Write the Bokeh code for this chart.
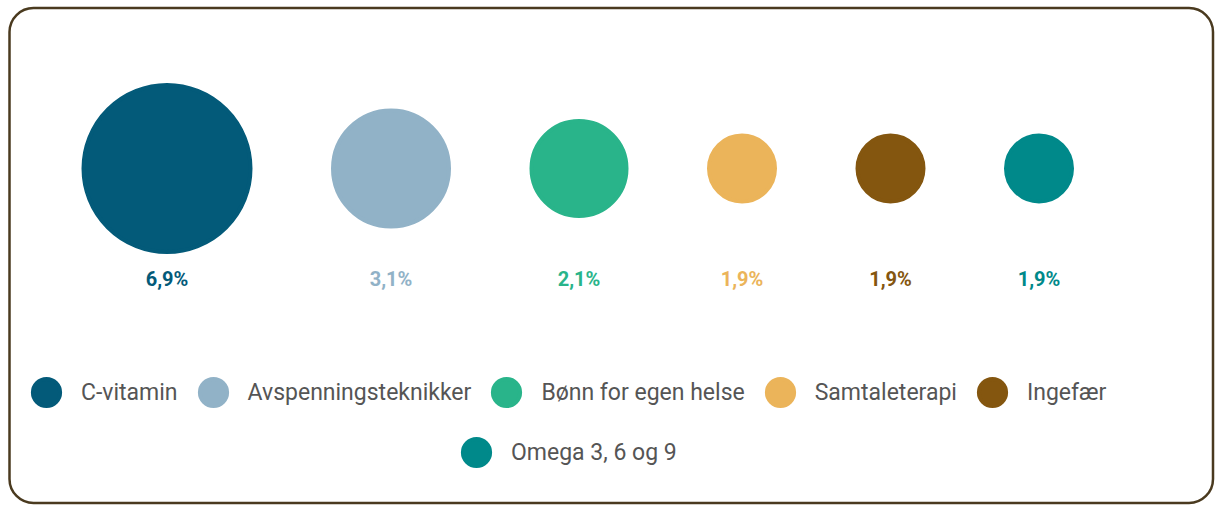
from bokeh.plotting import figure
from bokeh.models import ColumnDataSource, Range1d, BoxAnnotation, Legend, LegendItem
from bokeh.embed import file_html
from bokeh.resources import INLINE
from bokeh.core.properties import value

# ---- data ----
categories = ["C-vitamin", "Avspenningsteknikker", "Bønn for egen helse",
              "Samtaleterapi", "Ingefær", "Omega 3, 6 og 9"]
shares = [6.9, 3.1, 2.1, 1.9, 1.9, 1.9]
share_labels = ["6,9%", "3,1%", "2,1%", "1,9%", "1,9%", "1,9%"]

# ---- styles ----
colors = ["#035a79", "#91b2c7", "#29b48a", "#ebb45a", "#84560f", "#00898a"]
bubble_diam = [171, 120, 99, 70, 70, 70]   # screen diameters of the bubbles
edge_w = 4                                   # outline width (same colour as fill)
W, H = 1215, 505
first_left = 81
gap = 78.5
bubble_y = 168
label_y = 278

xs = []
cur = first_left
for d in bubble_diam:
    xs.append(cur + d / 2)
    cur += d + gap

src = ColumnDataSource(dict(
    x=xs, y=[bubble_y] * len(xs), size=[d - edge_w for d in bubble_diam],
    color=colors, cat=categories, share=shares, lab=share_labels,
    ly=[label_y] * len(xs),
))

p = figure(width=W, height=H, output_backend="svg", toolbar_location=None,
           x_range=Range1d(0, W), y_range=Range1d(H, 0),
           x_axis_location=None, y_axis_location=None,
           min_border=0, min_border_left=0, min_border_right=0,
           min_border_top=0, min_border_bottom=0)
p.grid.visible = False
p.outline_line_color = None
p.background_fill_color = "white"
p.border_fill_color = "white"

frame = BoxAnnotation(left=9, right=1212.5, top=7.5, bottom=502.5,
                      fill_alpha=0, line_color="#4a3a1f", line_alpha=1,
                      line_width=2.5, border_radius=24, level="underlay")
p.add_layout(frame)

r = p.scatter("x", "y", size="size", source=src, fill_color="color",
              line_color="color", line_width=edge_w, marker="circle")

p.text("x", "ly", text="lab", source=src, text_color="color",
       text_font=value("Roboto"), text_font_style="bold", text_font_size="20px",
       text_align="center", text_baseline="middle")

common = dict(orientation="horizontal", glyph_width=68, glyph_height=68,
              label_standoff=1, spacing=1, padding=0, margin=0,
              border_line_alpha=0, background_fill_alpha=0,
              label_text_font="Roboto", label_text_font_size="23px",
              label_text_color="#555555")

leg1 = Legend(items=[LegendItem(label=categories[i], renderers=[r], index=i)
                     for i in range(5)], location=(12, 79), **common)
leg2 = Legend(items=[LegendItem(label=categories[5], renderers=[r], index=5)],
              location=(442, 19), **common)
p.add_layout(leg1, "center")
p.add_layout(leg2, "center")

open("out.html", "w").write(file_html(p, INLINE))
